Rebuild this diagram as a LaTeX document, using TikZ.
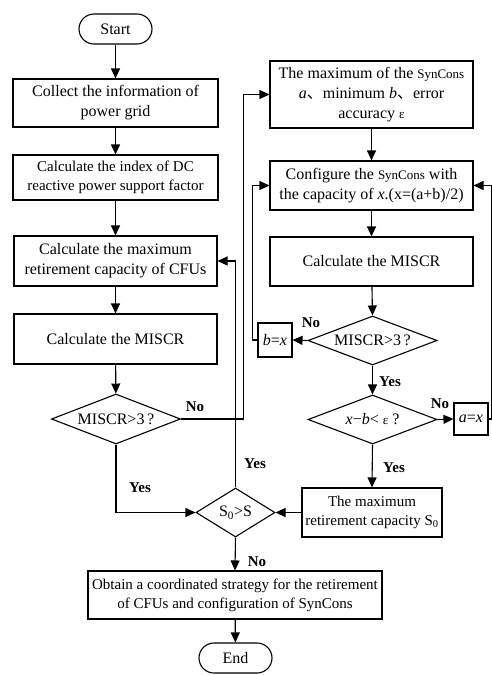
\documentclass[tikz,border=0pt]{standalone}
\usepackage{fontspec}
\setmainfont{Liberation Serif}
\newfontfamily\cjk{Noto Sans CJK SC}
\usetikzlibrary{arrows.meta,shapes.geometric}

\newcommand{\syn}{{\fontsize{13}{16}\selectfont SynCons}}
\newcommand{\eps}{{\fontsize{13}{13}\selectfont ε}}

\tikzset{
  flow/.style={line width=1.1pt},
  process/.style={flow, draw, rectangle, align=center, inner sep=1pt,
    font=\fontsize{16}{20}\selectfont},
  smallproc/.style={process, font=\fontsize{15}{19}\selectfont},
  term/.style={flow, draw, rounded corners=15pt, minimum width=73pt,
    minimum height=30pt, inner sep=0pt, font=\fontsize{16}{20}\selectfont},
  decision/.style={flow, draw, diamond, shape aspect=2.6, inner sep=0pt,
    font=\fontsize{16}{20}\selectfont},
  arr/.style={flow, -{Triangle[length=10pt,width=9pt]}},
  lab/.style={font=\bfseries\fontsize{15}{15}\selectfont, inner sep=0pt},
}

\begin{document}
\begin{tikzpicture}[x=1pt,y=-1pt]
\useasboundingbox (0,0) rectangle (492,675);

% left column
\node[term] (start) at (115.5,29) {Start};
\node[process, minimum width=205pt, minimum height=48pt] (c1) at (115.5,103)
  {Collect the information of\\power grid};
\node[smallproc, minimum width=205pt, minimum height=45pt] (c2) at (115.5,177.5)
  {Calculate the index of DC\\reactive power support factor};
\node[process, minimum width=203pt, minimum height=50pt] (c3) at (115.5,261)
  {Calculate the maximum\\retirement capacity of CFUs};
\node[process, minimum width=203pt, minimum height=50pt] (c4) at (115.5,339)
  {Calculate the MISCR};
\node[decision, minimum width=129pt, minimum height=50pt] (d1) at (116,419)
  {MISCR>3\,?};

% right column
\node[process, minimum width=203pt, minimum height=67pt] (r1) at (371.5,94.5)
  {The maximum of the \syn\\\textit{a}{\cjk 、}minimum \textit{b}{\cjk 、}error\\accuracy \eps};
\node[process, minimum width=203pt, minimum height=49pt] (r2) at (371.5,185.5)
  {Configure the \syn{} with\\the capacity of \textit{x}.(x=(a+b)/2)};
\node[process, minimum width=203pt, minimum height=49pt] (r3) at (371.5,261.5)
  {Calculate the MISCR};
\node[decision, minimum width=129pt, minimum height=49pt] (d2) at (372.5,340.5)
  {MISCR>3\,?};
\node[process, minimum width=34pt, minimum height=34pt, inner sep=0pt] (bx) at (275,340)
  {\textit{b}=\textit{x}};
\node[decision, minimum width=129pt, minimum height=49pt] (d3) at (372.5,419.5)
  {\textit{x}−\textit{b}< \eps\ ?};
\node[process, minimum width=34pt, minimum height=32pt, inner sep=0pt] (ax) at (471,419)
  {\textit{a}=\textit{x}};
\node[smallproc, minimum width=140pt, minimum height=49pt] (rb) at (372,512.5)
  {The maximum\\retirement capacity S\textsubscript{0}};

% merge and finish
\node[decision, shape aspect=1.6, minimum width=79pt, minimum height=49pt] (d4) at (235.5,512.5)
  {S\textsubscript{0}>S};
\node[smallproc, minimum width=294pt, minimum height=48pt] (fin) at (235,595)
  {Obtain a coordinated strategy for the retirement\\of CFUs and configuration of SynCons};
\node[term] (end) at (235.5,658) {End};

% main flow
\draw[arr] (start) -- (c1);
\draw[arr] (c1) -- (c2);
\draw[arr] (c2) -- (c3);
\draw[arr] (c3) -- (c4);
\draw[arr] (c4) -- (d1);
\draw[arr] (d1.east) -- ++(62,0) |- (r1.west);
\draw[arr] (d1.south) |- (d4.west);
\draw[arr] (d4.north) |- (c3.east);
\draw[arr] (d4.south) -- (fin.north);
\draw[arr] (fin) -- (end);

% bisection loop
\draw[arr] (r1) -- (r2);
\draw[arr] (r2) -- (r3);
\draw[arr] (r3) -- (d2.north);
\draw[arr] (d2.west) -- (bx.east);
\draw[arr] (bx.west) -- ++(-5,0) |- (r2.west);
\draw[arr] (d2.south) -- (d3.north);
\draw[arr] (d3.east) -- (ax.west);
\draw[arr] (ax.east) -- ++(2.5,0) |- (r2.east);
\draw[arr] (d3.south) -- (rb.north);
\draw[arr] (rb.west) -- (d4.east);

% branch labels
\node[lab] at (195,407) {No};
\node[lab] at (140,488) {Yes};
\node[lab] at (255,464) {Yes};
\node[lab] at (257,562) {No};
\node[lab] at (311,323) {No};
\node[lab] at (390,382) {Yes};
\node[lab] at (440,404) {No};
\node[lab] at (394,468) {Yes};
\end{tikzpicture}
\end{document}
